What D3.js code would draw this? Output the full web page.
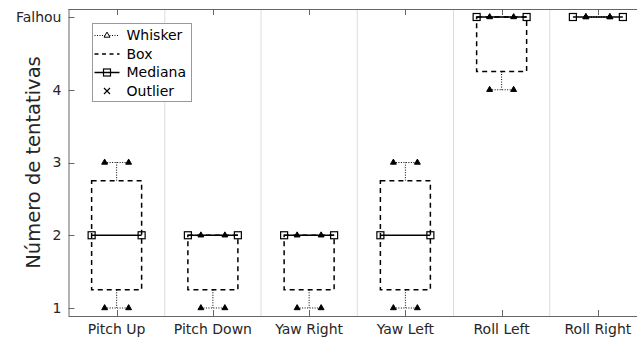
<!DOCTYPE html>
<html><head><meta charset="utf-8">
<script src="https://cdn.jsdelivr.net/npm/d3@7"></script>
<style>body{margin:0;background:#fff}svg{display:block;font-family:"DejaVu Sans",sans-serif}</style>
</head><body><svg id="c" width="637" height="339"></svg>
<script>
const categories = ["Pitch Up","Pitch Down","Yaw Right","Yaw Left","Roll Left","Roll Right"];
const minVals = [1,1,1,1,4,5];
const q1Vals  = [1.25,1.25,1.25,1.25,4.25,5];
const medVals = [2,2,2,2,5,5];
const q3Vals  = [2.75,2,2,2.75,5,5];
const maxVals = [3,2,2,3,5,5];
const yTicks = [1,2,3,4,5];
const yTickLabels = ["1","2","3","4","Falhou"];
const legendItems = ["Whisker","Box","Mediana","Outlier"];

const svg = d3.select("#c");
const L=68.5, R=646, T=9, B=316;
const x = d3.scaleBand().domain(categories).range([L,R]).padding(0);
const y = d3.scaleLinear().domain([0.89,5.11]).range([B,T]);
const bw = x.bandwidth();
const boxHalf = 25, capHalf = 12;

// separators
svg.append("g").selectAll("line").data(categories.slice(1)).join("line")
  .attr("x1",d=>x(d)).attr("x2",d=>x(d)).attr("y1",T).attr("y2",B)
  .attr("stroke","#dcdcdc").attr("stroke-width",1);

// axes
const ax = svg.append("g").attr("stroke","#666");
ax.append("line").attr("x1",L).attr("x2",R).attr("y1",B+0.5).attr("y2",B+0.5);
ax.append("line").attr("x1",L).attr("x2",R).attr("y1",T+0.5).attr("y2",T+0.5);
ax.append("line").attr("x1",L+0.5).attr("x2",L+0.5).attr("y1",T).attr("y2",B);
// inward ticks
svg.append("g").selectAll("line").data(yTicks).join("line")
  .attr("x1",L).attr("x2",L+6).attr("y1",d=>Math.round(y(d))+0.5).attr("y2",d=>Math.round(y(d))+0.5).attr("stroke","#666");
svg.append("g").selectAll("line").data(categories).join("line")
  .attr("x1",d=>Math.round(x(d)+bw/2)+0.5).attr("x2",d=>Math.round(x(d)+bw/2)+0.5).attr("y1",B).attr("y2",B-6).attr("stroke","#666");
svg.append("g").selectAll("line").data(categories).join("line")
  .attr("x1",d=>Math.round(x(d)+bw/2)+0.5).attr("x2",d=>Math.round(x(d)+bw/2)+0.5).attr("y1",T).attr("y2",T+6).attr("stroke","#666");

// tick labels
svg.append("g").selectAll("text").data(yTicks).join("text")
  .attr("x",L-7).attr("y",d=>y(d)).attr("dy","0.35em").attr("text-anchor","end")
  .attr("font-size",14).attr("fill","#262626").text((d,i)=>yTickLabels[i]);
svg.append("g").selectAll("text").data(categories).join("text")
  .attr("x",d=>x(d)+bw/2).attr("y",B+18).attr("text-anchor","middle")
  .attr("font-size",14).attr("fill","#262626").text(d=>d);
svg.append("text").attr("transform",`translate(33,${(T+B)/2}) rotate(-90)`)
  .attr("text-anchor","middle").attr("dy","0.35em").attr("font-size",19.5).attr("fill","#262626")
  .text("Número de tentativas");

const tri = d3.symbol().type(d3.symbolTriangle).size(15);
function drawTri(g,cx,cy,filled){
  g.append("path").attr("d",tri()).attr("transform",`translate(${cx},${cy})`)
   .attr("fill",filled?"#000":"#fff").attr("stroke","#000").attr("stroke-width",1);
}
function drawSq(g,cx,cy){
  g.append("rect").attr("x",cx-3.5).attr("y",cy-3.5).attr("width",7).attr("height",7)
   .attr("fill","none").attr("stroke","#000").attr("stroke-width",1.2);
}

categories.forEach((c,i)=>{
  const g = svg.append("g");
  const cx = x(c)+bw/2;
  // whiskers
  [[maxVals[i],q3Vals[i]],[minVals[i],q1Vals[i]]].forEach(([w,q])=>{
    if(w!==q){
      g.append("line").attr("x1",cx).attr("x2",cx).attr("y1",y(q)).attr("y2",y(w))
        .attr("stroke","#000").attr("stroke-width",1).attr("stroke-dasharray","1,1.5");
    }
    g.append("line").attr("x1",cx-capHalf).attr("x2",cx+capHalf).attr("y1",y(w)).attr("y2",y(w))
      .attr("stroke","#000").attr("stroke-width",1).attr("stroke-dasharray","1,1.5");
  });
  // box
  if(q3Vals[i]!==q1Vals[i]){
    g.append("rect").attr("x",cx-boxHalf).attr("y",y(q3Vals[i])).attr("width",boxHalf*2)
      .attr("height",y(q1Vals[i])-y(q3Vals[i])).attr("fill","none").attr("stroke","#000")
      .attr("stroke-width",1.5).attr("stroke-dasharray","5,4");
  }
  // median
  g.append("line").attr("x1",cx-boxHalf).attr("x2",cx+boxHalf).attr("y1",y(medVals[i])).attr("y2",y(medVals[i]))
    .attr("stroke","#000").attr("stroke-width",1.5);
  drawSq(g,cx-boxHalf,y(medVals[i])); drawSq(g,cx+boxHalf,y(medVals[i]));
  [maxVals[i],minVals[i]].forEach(w=>{ drawTri(g,cx-capHalf,y(w),true); drawTri(g,cx+capHalf,y(w),true); });
});

// legend
const lg = svg.append("g").attr("transform","translate(92.5,23.5)");
lg.append("rect").attr("width",99).attr("height",78).attr("fill","#fff").attr("stroke","#999");
legendItems.forEach((t,i)=>{
  const ly = 12+i*18.5;
  const x0=2,x1=27,xm=14.5;
  if(i===0){
    lg.append("line").attr("x1",x0).attr("x2",x1).attr("y1",ly).attr("y2",ly).attr("stroke","#000").attr("stroke-dasharray","1,1.5");
    drawTri(lg,xm,ly,false);
  } else if(i===1){
    lg.append("line").attr("x1",x0).attr("x2",x1).attr("y1",ly).attr("y2",ly).attr("stroke","#000").attr("stroke-width",1.3).attr("stroke-dasharray","4,3.5");
  } else if(i===2){
    lg.append("line").attr("x1",x0).attr("x2",x1).attr("y1",ly).attr("y2",ly).attr("stroke","#000").attr("stroke-width",1.5);
    drawSq(lg,xm,ly);
  } else {
    lg.append("path").attr("d",`M${xm-3},${ly-3}L${xm+3},${ly+3}M${xm-3},${ly+3}L${xm+3},${ly-3}`).attr("stroke","#000").attr("stroke-width",1.2);
  }
  lg.append("text").attr("x",34).attr("y",ly).attr("dy","0.35em").attr("font-size",14).attr("fill","#000").text(t);
});
</script></body></html>
